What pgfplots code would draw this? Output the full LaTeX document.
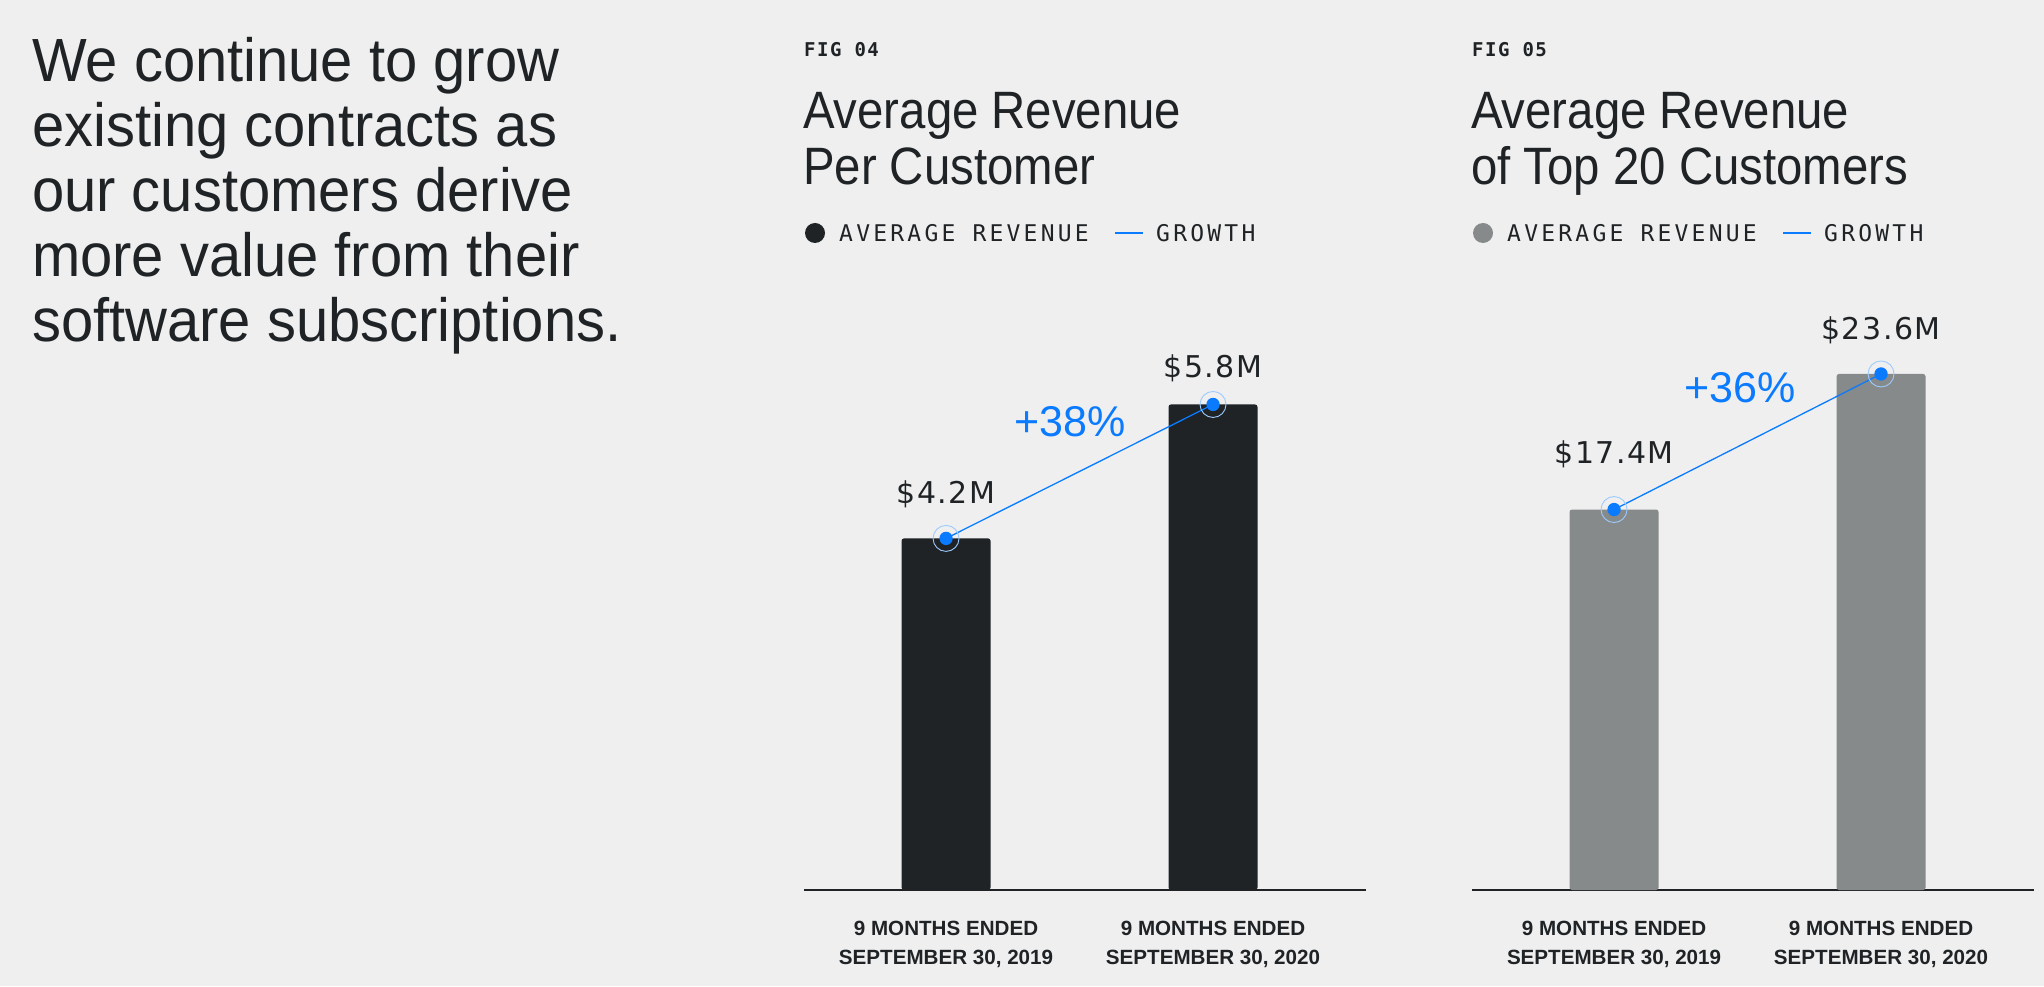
\documentclass[border=0pt]{standalone}
\usepackage{fontspec}
\setmainfont{Liberation Sans}
\usepackage{pgfplots}
\pgfplotsset{compat=1.18}
\newfontfamily\titlefont[FakeStretch=0.9]{Liberation Sans}
\newfontfamily\bodyfont[FakeStretch=0.95]{Liberation Sans}
\newfontfamily\figfont[LetterSpace=8]{DejaVu Sans Mono}
\newfontfamily\legfont[LetterSpace=14]{DejaVu Sans Mono}
\newfontfamily\valfont[LetterSpace=5]{DejaVu Sans}
\definecolor{bg}{HTML}{EFEFEF}
\definecolor{ink}{HTML}{1F2326}
\definecolor{barA}{HTML}{1F2326}
\definecolor{barB}{HTML}{878A8A}
\definecolor{growth}{HTML}{0A7AFF}
\pgfplotsset{
  revchart/.style={
    width=562pt, height=586pt, scale only axis,
    xmin=-0.532, xmax=1.573, ymin=0,
    axis x line=bottom, axis y line=none,
    axis line style={-, draw=ink, line width=1.4pt},
    xtick={0,1},
    xticklabels={{9 MONTHS ENDED\\SEPTEMBER 30, 2019},{9 MONTHS ENDED\\SEPTEMBER 30, 2020}},
    major tick length=0pt,
    xticklabel style={align=center, font=\bfseries\fontsize{20.6}{29}\selectfont, text=ink, yshift=-28pt},
    ytick=\empty, clip=false,
  }
}
\begin{document}
\begin{tikzpicture}
\begin{scope}[x=1pt,y=1pt]
\fill[bg] (0,0) rectangle (2044,986);
% left text
\foreach \t [count=\i from 0] in {We continue to grow,existing contracts as,our customers derive,more value from their,software subscriptions.}{
  \node[anchor=base west, inner sep=0, text=ink, font=\bodyfont\fontsize{61}{65}\selectfont] at (32, {986-82-65*\i}) {\t};
}
% ---------- chart 1 texts ----------
\node[anchor=base west, inner sep=0, text=ink, font=\figfont\bfseries\fontsize{19}{19}\selectfont] at (804, 929) {FIG 04};
\node[anchor=base west, inner sep=0, text=ink, font=\titlefont\fontsize{52.6}{56}\selectfont] at (803, 857) {Average Revenue};
\node[anchor=base west, inner sep=0, text=ink, font=\titlefont\fontsize{52.6}{56}\selectfont] at (803, 801) {Per Customer};
\fill[barA] (815, 753) circle (10);
\node[anchor=base west, inner sep=0, text=ink, font=\legfont\fontsize{23}{23}\selectfont] at (839, 744) {AVERAGE REVENUE};
\draw[growth, line width=2pt] (1115,753) -- (1143,753);
\node[anchor=base west, inner sep=0, text=ink, font=\legfont\fontsize{23}{23}\selectfont] at (1156, 744) {GROWTH};
% ---------- chart 2 texts ----------
\node[anchor=base west, inner sep=0, text=ink, font=\figfont\bfseries\fontsize{19}{19}\selectfont] at (1472, 929) {FIG 05};
\node[anchor=base west, inner sep=0, text=ink, font=\titlefont\fontsize{52.6}{56}\selectfont] at (1471, 857) {Average Revenue};
\node[anchor=base west, inner sep=0, text=ink, font=\titlefont\fontsize{52.6}{56}\selectfont] at (1471, 801) {of Top 20 Customers};
\fill[barB] (1483, 753) circle (10);
\node[anchor=base west, inner sep=0, text=ink, font=\legfont\fontsize{23}{23}\selectfont] at (1507, 744) {AVERAGE REVENUE};
\draw[growth, line width=2pt] (1783,753) -- (1811,753);
\node[anchor=base west, inner sep=0, text=ink, font=\legfont\fontsize{23}{23}\selectfont] at (1824, 744) {GROWTH};
\end{scope}
\begin{axis}[revchart, at={(804pt,96pt)}, anchor=south west, ymax=7]
\addplot[ybar, bar width=89pt, fill=barA, draw=none, rounded corners=2.5pt] coordinates {(0,4.2) (1,5.8)};
\addplot[growth, line width=1.3pt, mark=*, mark size=6pt, mark options={fill=growth, draw=growth}] coordinates {(0,4.2) (1,5.8)};
\addplot[only marks, mark=o, mark size=13pt, mark options={draw=growth!40, line width=0.9pt}] coordinates {(0,4.2) (1,5.8)};
\node[anchor=base, inner sep=0, text=ink, font=\valfont\fontsize{30}{30}\selectfont, yshift=35pt] at (axis cs:0,4.2) {\$4.2M};
\node[anchor=base, inner sep=0, text=ink, font=\valfont\fontsize{30}{30}\selectfont, yshift=27pt] at (axis cs:1,5.8) {\$5.8M};
\node[anchor=base, inner sep=0, text=growth, font=\fontsize{43}{43}\selectfont] at (axis cs:0.464,5.42) {+38\%};
\end{axis}
\begin{axis}[revchart, at={(1472pt,96pt)}, anchor=south west, ymax=26.8]
\addplot[ybar, bar width=89pt, fill=barB, draw=none, rounded corners=2.5pt] coordinates {(0,17.4) (1,23.6)};
\addplot[growth, line width=1.3pt, mark=*, mark size=6pt, mark options={fill=growth, draw=growth}] coordinates {(0,17.4) (1,23.6)};
\addplot[only marks, mark=o, mark size=13pt, mark options={draw=growth!40, line width=0.9pt}] coordinates {(0,17.4) (1,23.6)};
\node[anchor=base, inner sep=0, text=ink, font=\valfont\fontsize{30}{30}\selectfont, yshift=46pt] at (axis cs:0,17.4) {\$17.4M};
\node[anchor=base, inner sep=0, text=ink, font=\valfont\fontsize{30}{30}\selectfont, yshift=34pt] at (axis cs:1,23.6) {\$23.6M};
\node[anchor=base, inner sep=0, text=growth, font=\fontsize{43}{43}\selectfont] at (axis cs:0.472,22.3) {+36\%};
\end{axis}
\pgfresetboundingbox
\path (0,0) rectangle (2044pt,986pt);
\end{tikzpicture}
\end{document}
